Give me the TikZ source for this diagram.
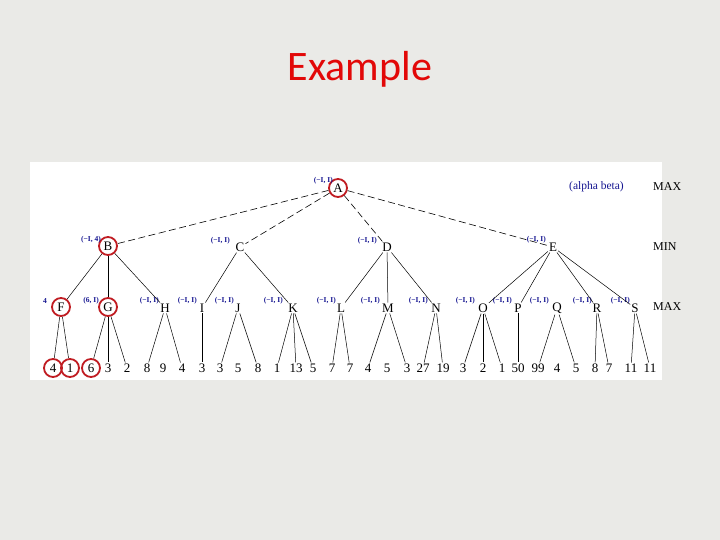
\documentclass[tikz,border=0pt]{standalone}
\usepackage{fontspec}
\setmainfont{Liberation Serif}
\newfontfamily\titlefont{Carlito}
\usepackage{tikz}
\usetikzlibrary{positioning}
\definecolor{mybg}{RGB}{234,234,231}
\definecolor{myred}{RGB}{226,8,8}
\definecolor{myring}{RGB}{192,28,34}
\definecolor{myblue}{RGB}{22,22,145}
\tikzset{
  tnode/.style={inner sep=1pt, font=\fontsize{13}{13}\selectfont},
  ringnode/.style={circle, draw=myring, line width=1.8pt,
    minimum size=18pt, inner sep=0pt, font=\fontsize{13}{13}\selectfont},
  leaf/.style={inner sep=1pt, font=\fontsize{13}{13}\selectfont},
  ablabel/.style={anchor=east, inner sep=0pt, text=myblue,
    font=\fontsize{7.5}{7.5}\selectfont\bfseries},
  sidetext/.style={anchor=west, inner sep=0pt, font=\fontsize{12}{12}\selectfont},
  edge/.style={line width=0.5pt},
  topedge/.style={line width=0.6pt, dash pattern=on 7pt off 3.5pt}
}

\begin{document}
\begin{tikzpicture}[x=1pt, y=-1pt]
  \useasboundingbox (0,0) rectangle (720,540);
  % slide background and white panel
  \fill[mybg] (0,0) rectangle (720,540);
  \fill[white] (30,162) rectangle (662,380);
  \node[anchor=base, text=myred, font=\titlefont\fontsize{42}{42}\selectfont] (title) at (360,81) {Example};

  % root and MIN level
  \node[ringnode] (A) at (338,188) {A};
  \node[ringnode] (B) at (108,246) {B};
  \node[tnode] (C) at (240,247) {C};
  \node[tnode] (D) at (387,247) {D};
  \node[tnode] (E) at (553,247) {E};

  % MAX level
  \node[ringnode] (F) at (61,307) {F};
  \node[ringnode] (G) at (108,307) {G};
  \node[tnode] (H) at (165,308) {H};
  \node[tnode] (I) at (202,308) {I};
  \node[tnode] (J) at (238,308) {J};
  \node[tnode] (K) at (293,308) {K};
  \node[tnode] (L) at (341,308) {L};
  \node[tnode] (M) at (388,308) {M};
  \node[tnode] (N) at (436,308) {N};
  \node[tnode] (O) at (483,308) {O};
  \node[tnode] (P) at (518,308) {P};
  \node[tnode] (Q) at (557,308) {Q};
  \node[tnode] (R) at (597,308) {R};
  \node[tnode] (S) at (635,308) {S};

  % (alpha, beta) windows
  \node[ablabel] (lA) at (333,181) {(−I, I)};
  \node[ablabel] (lB) at (101,240) {(−I, 4)};
  \node[ablabel] (lC) at (230,241) {(−I, I)};
  \node[ablabel] (lD) at (377,241) {(−I, I)};
  \node[ablabel] (lE) at (546,240) {(−I, I)};
  \node[ablabel] (lF) at (47,301) {4};
  \node[ablabel] (lG) at (99,301) {(6, I)};
  \node[ablabel] (lH) at (159,301) {(−I, I)};
  \node[ablabel] (lI) at (197,301) {(−I, I)};
  \node[ablabel] (lJ) at (234,301) {(−I, I)};
  \node[ablabel] (lK) at (283,301) {(−I, I)};
  \node[ablabel] (lL) at (336,301) {(−I, I)};
  \node[ablabel] (lM) at (380,301) {(−I, I)};
  \node[ablabel] (lN) at (428,301) {(−I, I)};
  \node[ablabel] (lO) at (475,301) {(−I, I)};
  \node[ablabel] (lP) at (512,301) {(−I, I)};
  \node[ablabel] (lQ) at (549,301) {(−I, I)};
  \node[ablabel] (lR) at (592,301) {(−I, I)};
  \node[ablabel] (lS) at (630,301) {(−I, I)};

  \node[anchor=west, inner sep=0pt, text=myblue, font=\fontsize{11.5}{11.5}\selectfont] (ab) at (569,187) {(alpha beta)};
  \node[sidetext] (max1) at (653,187) {MAX};
  \node[sidetext] (min1) at (653,247) {MIN};
  \node[sidetext] (max2) at (653,307) {MAX};

  % leaves
  \node[ringnode] (v1) at (53,368) {4};
  \node[ringnode] (v2) at (70,368) {1};
  \node[ringnode] (v3) at (91,368) {6};
  \foreach \n/\x/\val in {4/108/3, 5/127/2, 6/147/8, 7/163/9, 8/182/4,
      9/202/3, 10/220/3, 11/238/5, 12/258/8, 13/277/1, 14/296/13,
      15/313/5, 16/332/7, 17/350/7, 18/368/4, 19/387/5, 20/407/3,
      21/423/27, 22/443/19, 23/463/3, 24/483/2, 25/502/1, 26/518/50,
      27/538/99, 28/557/4, 29/576/5, 30/595/8, 31/609/7, 32/631/11,
      33/650/11}
    \node[leaf] (v\n) at (\x,368) {\val};

  % edges
  \draw[topedge] (A) -- (B);
  \draw[topedge] (A) -- (C);
  \draw[topedge] (A) -- (D);
  \draw[topedge] (A) -- (E);
  \foreach \a/\b in {B/F, B/G, B/H, C/I, C/K, D/L, D/M, D/N,
      E/O, E/P, E/R, E/S}
    \draw[edge] (\a) -- (\b);
  \foreach \a/\b in {F/v1, F/v2, G/v3, G/v4, G/v5, H/v6, H/v8, I/v9,
      J/v10, J/v12, K/v13, K/v14, K/v15, L/v16, L/v17, M/v18, M/v20,
      N/v21, N/v22, O/v23, O/v24, O/v25, P/v26, Q/v27, Q/v29,
      R/v30, R/v31, S/v32, S/v33}
    \draw[edge] (\a) -- (\b);
\end{tikzpicture}
\end{document}
